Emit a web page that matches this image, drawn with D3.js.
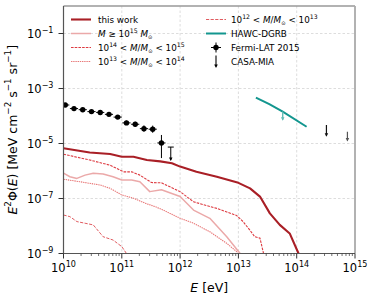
<!DOCTYPE html>
<html><head><meta charset="utf-8">
<script src="https://cdn.jsdelivr.net/npm/d3@7"></script>
<style>body{margin:0;background:#fff} svg{display:block} text{font-family:"DejaVu Sans",sans-serif;fill:#000}</style>
</head><body><svg id="c" width="374" height="299"></svg>
<script>
// ---- data (log10 of E [eV] and of E^2 Phi [MeV cm^-2 s^-1 sr^-1]) ----
const thisWorkLogE = [10.0, 10.45, 10.80, 11.0, 11.2, 11.43, 11.66, 11.86, 12.0, 12.28, 12.63, 13.0, 13.20, 13.37, 13.54, 13.71, 13.88, 14.03, 14.08];
const thisWorkLogF = [-5.17, -5.33, -5.38, -5.48, -5.48, -5.60, -5.65, -5.72, -5.84, -6.03, -6.21, -6.43, -6.63, -6.93, -7.54, -7.96, -8.27, -8.99, -9.3];

const m14LogE = [10.0, 10.45, 10.80, 11.03, 11.17, 11.31, 11.51, 11.68, 12.0, 12.23, 12.63, 12.97, 13.08, 13.20, 13.28, 13.37, 13.43, 13.47];
const m14LogF = [-5.39, -5.60, -5.79, -6.03, -6.03, -6.15, -6.42, -6.43, -6.75, -7.12, -7.36, -7.62, -7.84, -8.16, -8.39, -8.44, -8.99, -9.3];

const m15LogE = [10.0, 10.11, 10.23, 10.37, 10.51, 10.68, 10.85, 11.0, 11.17, 11.31, 11.48, 11.68, 12.0, 12.23, 12.51, 12.80, 13.03, 13.08];
const m15LogF = [-6.08, -6.21, -6.27, -6.15, -6.08, -6.11, -6.21, -6.33, -6.33, -6.39, -6.75, -6.68, -6.93, -7.42, -7.72, -8.39, -9.0, -9.3];

const m13LogE = [10.0, 10.28, 10.63, 10.80, 11.0, 11.2, 11.40, 11.60, 11.71, 12.0, 12.23, 12.51, 12.80, 12.97, 13.05];
const m13LogF = [-6.30, -6.39, -6.51, -6.63, -6.87, -6.99, -7.17, -7.32, -7.42, -7.72, -7.90, -8.21, -8.63, -8.93, -9.3];

const m12LogE = [10.0, 10.11, 10.23, 10.37, 10.51, 10.68, 10.85, 11.0, 11.08, 11.12];
const m12LogF = [-7.60, -7.66, -7.84, -7.90, -7.96, -8.39, -8.51, -8.75, -9.0, -9.3];

const fermiLogE = [10.03, 10.18, 10.33, 10.48, 10.63, 10.78, 10.93, 11.08, 11.23, 11.38, 11.53, 11.68];
const fermiLogF = [-3.60, -3.73, -3.77, -3.84, -3.87, -3.94, -4.04, -4.25, -4.30, -4.46, -4.48, -4.98];
const fermiErrUp = [0.05, 0.05, 0.05, 0.05, 0.05, 0.06, 0.07, 0.08, 0.09, 0.12, 0.13, 0.29];
const fermiErrDn = [0.05, 0.05, 0.05, 0.05, 0.05, 0.06, 0.07, 0.08, 0.09, 0.12, 0.13, 0.55];
const fermiHalfBin = 0.07;
const fermiUlLogE = [11.84];
const fermiUlLogF = [-5.13];
const fermiUlTip = [-5.64];

const hawcLogE = [13.30, 13.53, 13.76, 14.17];
const hawcLogF = [-3.33, -3.57, -3.84, -4.39];
const hawcUlLogE = [13.76];
const hawcUlLogF = [-3.84];
const hawcUlTip = [-4.17];

const casaLogE = [14.51, 14.87];
const casaLogF = [-4.33, -4.57];
const casaTip = [-4.75, -4.93];

const xTicks = [10, 11, 12, 13, 14, 15];
const yTicks = [-1, -3, -5, -7, -9];

// ---- setup ----
const svg = d3.select('#c');
const L = 63.5, R = 355, T = 6, B = 253.5;
const x = d3.scaleLog().domain([1e10, 1e15]).range([L, R]);
const y = d3.scaleLog().domain([1e-9, 1]).range([B, T]);
const p10 = v => Math.pow(10, v);

function rich(sel, parts, fs) {
  const t = sel.append('text').attr('font-size', fs);
  let off = 0;
  parts.forEach(([txt, kind]) => {
    const target = kind === 'sup' ? -0.42 * fs : kind === 'sub' ? 0.25 * fs : 0;
    const ts = t.append('tspan').text(txt).attr('dy', target - off);
    off = target;
    if (kind === 'sup' || kind === 'sub') ts.attr('font-size', fs * 0.7);
    if (kind === 'i') ts.attr('font-style', 'italic');
    if (kind === 'sub' && txt === '⊙') ts.attr('font-size', fs * 0.6);
  });
  return t;
}

svg.append('defs').append('clipPath').attr('id', 'clip')
  .append('rect').attr('x', L).attr('y', T).attr('width', R - L).attr('height', B - T);

// grid
const grid = svg.append('g');
xTicks.slice(1, -1).forEach(e => grid.append('line').attr('x1', x(p10(e))).attr('x2', x(p10(e)))
  .attr('y1', T).attr('y2', B).attr('stroke', '#cfcfcf').attr('stroke-width', 0.7).attr('stroke-dasharray', '2.5,2'));
yTicks.forEach(e => grid.append('line').attr('y1', y(p10(e))).attr('y2', y(p10(e)))
  .attr('x1', L).attr('x2', R).attr('stroke', '#cfcfcf').attr('stroke-width', 0.7).attr('stroke-dasharray', '2.5,2'));

// model lines
const plot = svg.append('g').attr('clip-path', 'url(#clip)');
const line = d3.line().x(d => x(p10(d[0]))).y(d => y(p10(d[1])));
const zip = (a, b) => a.map((v, i) => [v, b[i]]);

const styles = {
  thisWork: {c: '#a91f26', w: 2.1, d: null},
  m15: {c: '#eba9a9', w: 1.5, d: null},
  m14: {c: '#dd3a40', w: 1.1, d: '2.6,1.1'},
  m13: {c: '#e87878', w: 1.1, d: '1.4,0.8'},
  m12: {c: '#de5257', w: 0.95, d: '3.2,1.4'}
};
[['m12', m12LogE, m12LogF], ['m13', m13LogE, m13LogF], ['m15', m15LogE, m15LogF], ['m14', m14LogE, m14LogF], ['thisWork', thisWorkLogE, thisWorkLogF]]
  .forEach(([k, e, f]) => {
    const s = styles[k];
    plot.append('path').attr('d', line(zip(e, f))).attr('fill', 'none').attr('stroke', s.c)
      .attr('stroke-width', s.w).attr('stroke-dasharray', s.d).attr('stroke-linejoin', 'round');
  });

// HAWC
const hawcColor = '#13968f';
plot.append('path').attr('d', line(zip(hawcLogE, hawcLogF))).attr('fill', 'none').attr('stroke', hawcColor).attr('stroke-width', 2);

function arrow(g, e, top, tip, color, w, head) {
  const xx = x(p10(e)), y0 = y(p10(top)), y1 = y(p10(tip));
  g.append('line').attr('x1', xx).attr('x2', xx).attr('y1', y0).attr('y2', y1 - 1).attr('stroke', color).attr('stroke-width', w);
  g.append('path').attr('d', `M${xx - head / 2},${y1 - head} L${xx + head / 2},${y1 - head} L${xx},${y1} Z`).attr('fill', color);
}
hawcUlLogE.forEach((e, i) => arrow(plot, e, hawcUlLogF[i], hawcUlTip[i], '#62bdb6', 1.4, 3.5));

// CASA-MIA
casaLogE.forEach((e, i) => arrow(plot, e, casaLogF[i], casaTip[i], i === 1 ? '#555' : '#111', 1.2, 3.5));

// Fermi
const fg = plot.append('g');
fermiLogE.forEach((e, i) => {
  const cx = x(p10(e)), cy = y(p10(fermiLogF[i]));
  fg.append('line').attr('x1', x(p10(e - fermiHalfBin))).attr('x2', x(p10(e + fermiHalfBin))).attr('y1', cy).attr('y2', cy).attr('stroke', '#000').attr('stroke-width', 1);
  fg.append('line').attr('x1', cx).attr('x2', cx).attr('y1', y(p10(fermiLogF[i] + fermiErrUp[i]))).attr('y2', y(p10(fermiLogF[i] - fermiErrDn[i]))).attr('stroke', '#000').attr('stroke-width', 1);
  fg.append('circle').attr('cx', cx).attr('cy', cy).attr('r', 2.7).attr('fill', '#000');
});
fermiUlLogE.forEach((e, i) => {
  const cx = x(p10(e)), cy = y(p10(fermiUlLogF[i]));
  fg.append('line').attr('x1', cx - 3).attr('x2', cx + 3).attr('y1', cy).attr('y2', cy).attr('stroke', '#000').attr('stroke-width', 1);
  arrow(fg, e, fermiUlLogF[i], fermiUlTip[i], '#000', 1, 3.5);
});

// spines
svg.append('line').attr('x1', L).attr('x2', R).attr('y1', T).attr('y2', T).attr('stroke', '#999').attr('stroke-width', 1.3);
svg.append('line').attr('x1', R).attr('x2', R).attr('y1', T).attr('y2', B).attr('stroke', '#aaa').attr('stroke-width', 1.8);
svg.append('line').attr('x1', L).attr('x2', L).attr('y1', T).attr('y2', B).attr('stroke', '#555').attr('stroke-width', 1.2);
svg.append('line').attr('x1', L).attr('x2', R).attr('y1', B).attr('y2', B).attr('stroke', '#555').attr('stroke-width', 1.2);

// x ticks
const ax = svg.append('g');
xTicks.forEach(e => {
  const xx = x(p10(e));
  ax.append('line').attr('x1', xx).attr('x2', xx).attr('y1', B).attr('y2', B + 5).attr('stroke', '#333').attr('stroke-width', 1);
  if (e < 15) for (let m = 2; m <= 9; m++) {
    const xm = x(m * p10(e));
    ax.append('line').attr('x1', xm).attr('x2', xm).attr('y1', B).attr('y2', B + 2.5).attr('stroke', '#333').attr('stroke-width', 0.7);
  }
  rich(ax, [['10', 'n'], [String(e), 'sup']], 11.5).attr('x', xx).attr('y', B + 18.5).attr('text-anchor', 'middle');
});
// y ticks
yTicks.forEach(e => {
  const yy = y(p10(e));
  ax.append('line').attr('x1', L - 5).attr('x2', L).attr('y1', yy).attr('y2', yy).attr('stroke', '#333').attr('stroke-width', 1);
  rich(ax, [['10', 'n'], ['−' + String(-e), 'sup']], 11.5).attr('x', L - 10).attr('y', yy + 4.2).attr('text-anchor', 'end');
});

// axis labels
rich(svg, [['E', 'i'], [' [eV]', 'n']], 12.5).attr('x', (L + R) / 2).attr('y', 292).attr('text-anchor', 'middle');
rich(svg.append('g').attr('transform', `translate(16.5,${(T + B) / 2}) rotate(-90)`),
  [['E', 'i'], ['2', 'sup'], ['Φ(', 'n'], ['E', 'i'], [') [MeV cm', 'n'], ['−2', 'sup'], [' s', 'n'], ['−1', 'sup'], [' sr', 'n'], ['−1', 'sup'], [']', 'n']], 12.5)
  .attr('text-anchor', 'middle');

// legend
const lg = svg.append('g');
const rows = [19.5, 33.5, 47.5, 61.5];
const fsL = 8.8;
const leftItems = [
  ['thisWork', [['this work', 'n']]],
  ['m15', [['M', 'i'], [' ≥ 10', 'n'], ['15', 'sup'], [' ', 'n'], ['M', 'i'], ['⊙', 'sub']]],
  ['m14', [['10', 'n'], ['14', 'sup'], [' < ', 'n'], ['M', 'i'], ['/', 'n'], ['M', 'i'], ['⊙', 'sub'], [' < 10', 'n'], ['15', 'sup']]],
  ['m13', [['10', 'n'], ['13', 'sup'], [' < ', 'n'], ['M', 'i'], ['/', 'n'], ['M', 'i'], ['⊙', 'sub'], [' < 10', 'n'], ['14', 'sup']]]
];
leftItems.forEach(([k, parts], i) => {
  const s = styles[k];
  lg.append('line').attr('x1', 71).attr('x2', 91).attr('y1', rows[i]).attr('y2', rows[i]).attr('stroke', s.c)
    .attr('stroke-width', s.w).attr('stroke-dasharray', s.d);
  rich(lg, parts, fsL).attr('x', 98).attr('y', rows[i] + 3);
});
// right column
const rx1 = 206, rx2 = 226, rtx = 231;
lg.append('line').attr('x1', rx1).attr('x2', rx2).attr('y1', rows[0]).attr('y2', rows[0]).attr('stroke', styles.m12.c)
  .attr('stroke-width', styles.m12.w).attr('stroke-dasharray', styles.m12.d);
rich(lg, [['10', 'n'], ['12', 'sup'], [' < ', 'n'], ['M', 'i'], ['/', 'n'], ['M', 'i'], ['⊙', 'sub'], [' < 10', 'n'], ['13', 'sup']], fsL).attr('x', rtx).attr('y', rows[0] + 3);
lg.append('line').attr('x1', rx1).attr('x2', rx2).attr('y1', rows[1]).attr('y2', rows[1]).attr('stroke', hawcColor).attr('stroke-width', 2);
rich(lg, [['HAWC-DGRB', 'n']], fsL).attr('x', rtx).attr('y', rows[1] + 3);
const mx = (rx1 + rx2) / 2;
lg.append('line').attr('x1', mx - 5).attr('x2', mx + 5).attr('y1', rows[2]).attr('y2', rows[2]).attr('stroke', '#000');
lg.append('line').attr('x1', mx).attr('x2', mx).attr('y1', rows[2] - 5).attr('y2', rows[2] + 5).attr('stroke', '#000');
lg.append('circle').attr('cx', mx).attr('cy', rows[2]).attr('r', 2.7).attr('fill', '#000');
rich(lg, [['Fermi-LAT 2015', 'n']], fsL).attr('x', rtx).attr('y', rows[2] + 3);
lg.append('line').attr('x1', mx).attr('x2', mx).attr('y1', rows[3] - 6).attr('y2', rows[3] + 5).attr('stroke', '#000').attr('stroke-width', 1.1);
lg.append('path').attr('d', `M${mx - 1.8},${rows[3] + 3} L${mx + 1.8},${rows[3] + 3} L${mx},${rows[3] + 6.5} Z`).attr('fill', '#000');
rich(lg, [['CASA-MIA', 'n']], fsL).attr('x', rtx).attr('y', rows[3] + 3);
</script></body></html>
